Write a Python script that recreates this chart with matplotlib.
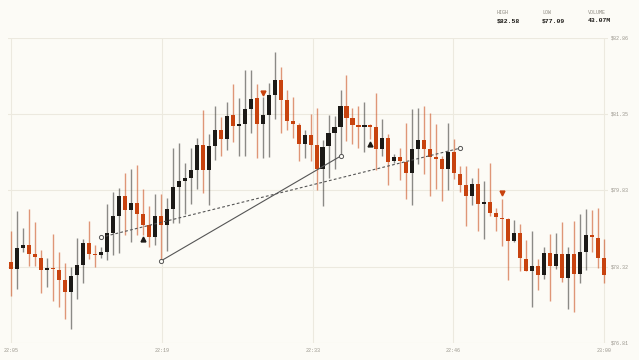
import numpy as np
import matplotlib
matplotlib.use("Agg")
import matplotlib.pyplot as plt

# OHLC per 33s candle
opens = [78.42, 78.27, 78.69, 78.75, 78.56, 78.50, 78.26, 78.29, 78.26, 78.05,
         77.82, 78.15, 78.36, 78.78, 78.56, 78.54, 78.61, 78.98, 79.33, 79.72,
         79.45, 79.59, 79.36, 79.14, 78.90, 79.32, 79.14, 79.47, 79.90, 80.02,
         80.08, 80.24, 80.74, 80.23, 80.72, 81.03, 80.86, 81.32, 81.10, 81.15,
         81.45, 81.66, 81.15, 81.33, 81.72, 82.02, 81.62, 81.21, 81.13, 80.75,
         80.93, 80.74, 80.25, 80.71, 80.97, 81.09, 81.51, 81.27, 81.12, 81.09,
         81.12, 81.09, 80.66, 80.88, 80.41, 80.49, 80.40, 80.17, 80.66, 80.84,
         80.66, 80.49, 80.45, 80.25, 80.59, 80.15, 79.94, 79.72, 79.96, 79.57,
         79.61, 79.38, 79.29, 79.26, 78.82, 78.98, 78.48, 78.24, 78.34, 78.15,
         78.59, 78.34, 78.57, 78.10, 78.57, 78.18, 78.61, 78.94, 78.89, 78.49]
highs = [79.03, 79.43, 79.08, 79.47, 79.20, 78.65, 78.50, 78.96, 78.61, 78.40,
         78.31, 78.89, 78.86, 79.23, 78.75, 78.71, 79.56, 79.79, 79.88, 80.17,
         80.26, 80.34, 79.86, 79.53, 79.75, 79.76, 79.68, 80.68, 80.77, 80.38,
         80.67, 80.88, 81.42, 80.95, 81.50, 81.28, 81.58, 81.95, 81.66, 82.21,
         82.21, 81.95, 81.69, 81.97, 82.58, 82.28, 81.82, 81.69, 81.17, 81.03,
         81.34, 81.46, 80.83, 81.33, 81.31, 81.83, 82.13, 81.47, 81.50, 81.59,
         81.15, 81.77, 81.24, 80.95, 80.56, 80.67, 81.17, 81.44, 81.46, 81.51,
         81.36, 81.14, 80.52, 81.17, 80.86, 80.31, 80.31, 80.07, 80.27, 80.02,
         80.38, 79.49, 79.67, 79.28, 79.24, 79.16, 78.85, 79.03, 78.47, 78.71,
         78.96, 78.99, 79.20, 78.71, 79.23, 79.36, 79.46, 79.44, 79.49, 78.87]
lows = [77.74, 77.87, 78.61, 78.34, 78.34, 77.79, 77.91, 77.64, 77.52, 77.28,
        77.09, 77.67, 77.99, 78.47, 78.32, 78.49, 78.45, 78.54, 78.59, 78.95,
        78.81, 78.95, 78.95, 78.70, 78.74, 78.43, 78.63, 79.19, 79.19, 79.36,
        79.57, 79.85, 79.77, 79.54, 80.43, 80.51, 80.64, 80.80, 80.51, 80.52,
        80.97, 80.48, 80.48, 80.49, 81.25, 80.96, 81.03, 80.88, 80.41, 80.48,
        80.41, 79.83, 79.52, 80.07, 80.25, 80.51, 80.82, 80.76, 80.68, 80.60,
        80.86, 80.23, 80.51, 79.94, 80.37, 80.04, 79.67, 79.54, 80.35, 80.15,
        79.72, 79.86, 79.63, 79.84, 80.05, 79.80, 79.13, 79.54, 79.03, 78.86,
        79.32, 79.02, 78.73, 78.06, 78.81, 78.23, 78.23, 77.51, 77.85, 78.08,
        77.64, 78.28, 78.02, 77.47, 77.42, 77.99, 78.25, 78.61, 78.30, 77.99]
closes = [78.27, 78.68, 78.75, 78.57, 78.51, 78.26, 78.29, 78.27, 78.06, 77.82,
          78.14, 78.35, 78.78, 78.57, 78.54, 78.61, 78.98, 79.32, 79.72, 79.45,
          79.59, 79.36, 79.14, 78.90, 79.32, 79.15, 79.47, 79.90, 80.01, 80.08,
          80.24, 80.74, 80.23, 80.72, 81.03, 80.86, 81.31, 81.10, 81.15, 81.44,
          81.65, 81.15, 81.32, 81.72, 82.02, 81.62, 81.21, 81.14, 80.75, 80.93,
          80.74, 80.25, 80.70, 80.96, 81.09, 81.51, 81.27, 81.13, 81.09, 81.12,
          81.09, 80.66, 80.88, 80.40, 80.49, 80.41, 80.17, 80.66, 80.84, 80.66,
          80.49, 80.46, 80.25, 80.59, 80.17, 79.94, 79.72, 79.96, 79.57, 79.61,
          79.39, 79.31, 79.26, 78.82, 78.98, 78.49, 78.24, 78.34, 78.15, 78.59,
          78.34, 78.57, 78.10, 78.57, 78.18, 78.61, 78.94, 78.90, 78.49, 78.16]

time_ticks = [0, 25.2, 50.4, 73.8, 99]
time_labels = ["22:05", "22:19", "22:33", "22:46", "23:00"]
price_ticks = [76.81, 78.32, 79.83, 81.35, 82.86]

# annotations: (candle index, price)
trend_solid = [(25, 78.43), (55, 80.51)]
trend_dashed = [(15, 78.90), (75, 80.67)]
buy_marks = [(22, 78.86), (60, 80.75)]
sell_marks = [(42, 81.76), (82, 79.78)]

stats_names = ["HIGH", "LOW", "VOLUME"]
stats_values = ["$82.58", "$77.09", "43.07M"]

bg = "#fcfbf6"
up_col = "#1c1a17"
down_col = "#c8430f"
grid_col = "#ece9df"
mono = "Liberation Mono"

o = np.array(opens)
h = np.array(highs)
l = np.array(lows)
c = np.array(closes)
x = np.arange(len(o))
up = c >= o

fig = plt.figure(figsize=(6.39, 3.6), dpi=100, facecolor=bg)
ax = fig.add_axes([8 / 639, (360 - 342.7) / 360, 600 / 639, 305 / 360])
ax.set_facecolor(bg)
ax.set_xlim(-0.5, 99.65)
ax.set_ylim(76.81, 82.86)

for t in time_ticks:
    ax.axvline(t, color=grid_col, lw=0.8, zorder=0)
for p in price_ticks:
    ax.axhline(p, color=grid_col, lw=0.8, zorder=0)

# wicks
ax.vlines(x[up], l[up], h[up], color=up_col, alpha=0.5, lw=1.0, zorder=2)
ax.vlines(x[~up], l[~up], h[~up], color=down_col, alpha=0.55, lw=1.0, zorder=2)
# bodies
body = np.maximum(np.abs(c - o), 0.025)
bottom = np.minimum(o, c)
ax.bar(x[up], body[up], bottom=bottom[up], width=0.68, color=up_col, zorder=3)
ax.bar(x[~up], body[~up], bottom=bottom[~up], width=0.68, color=down_col, zorder=3)

# trend lines
sx, sy = zip(*trend_solid)
ax.plot(sx, sy, color="#555555", lw=0.8, zorder=4)
ax.plot(sx, sy, "o", ms=3, mfc=bg, mec="#555555", mew=0.7, zorder=5)
dx, dy = zip(*trend_dashed)
ax.plot(dx, dy, color="#555555", lw=0.8, ls=(0, (2.5, 2)), zorder=4)
ax.plot(dx, dy, "o", ms=3, mfc=bg, mec="#555555", mew=0.7, zorder=5)

bx, by = zip(*buy_marks)
ax.plot(bx, by, "^", ms=3.5, color=up_col, lw=0, zorder=5)
kx, ky = zip(*sell_marks)
ax.plot(kx, ky, "v", ms=3.5, color=down_col, lw=0, zorder=5)

for s in ax.spines.values():
    s.set_visible(False)
ax.set_xticks([])
ax.set_yticks([])

for t, lab in zip(time_ticks, time_labels):
    ax.annotate(lab, (t, 76.81), xytext=(0, -8), textcoords="offset pixels",
                ha="center", va="center", fontsize=3.6, color="#9a968d",
                family=mono, annotation_clip=False)
for p in price_ticks:
    ax.annotate(f"${p:.2f}", (99.65, p), xytext=(3, 0), textcoords="offset pixels",
                ha="left", va="center", fontsize=3.6, color="#9a968d",
                family=mono, annotation_clip=False)

for i, (name, val) in enumerate(zip(stats_names, stats_values)):
    xp = [497, 542, 588][i] / 639
    fig.text(xp, 1 - 12 / 360, name, ha="left", va="center", fontsize=3.6,
             color="#8f8b82", family=mono)
    fig.text(xp, 1 - 20.5 / 360, val, ha="left", va="center", fontsize=4.6,
             color="#1c1a17", family=mono, weight="bold")

fig.savefig("out.png", dpi=100, facecolor=bg)
